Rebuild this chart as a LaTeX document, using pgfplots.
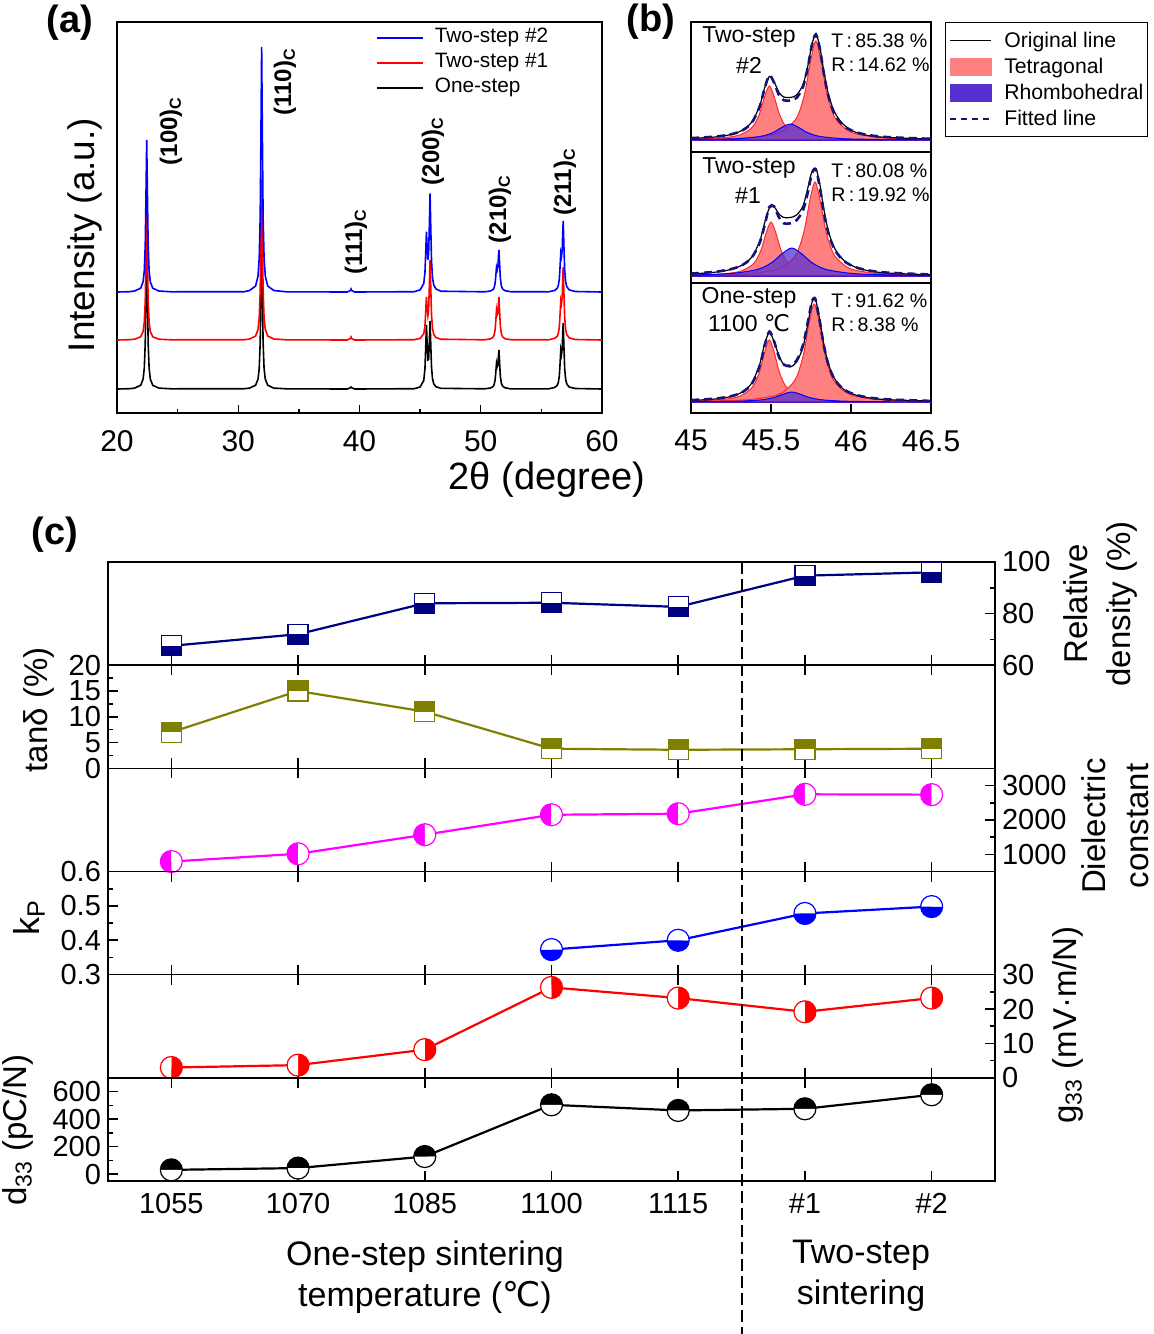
\documentclass[border=0pt]{standalone}
\usepackage{fontspec}
\setmainfont{Liberation Sans}
\newfontfamily\dejavu{DejaVu Sans}
\usepackage{pgfplots}
\pgfplotsset{compat=1.18}
\usetikzlibrary{plotmarks}

\definecolor{navyc}{RGB}{0,0,128}
\definecolor{olivec}{RGB}{128,128,0}
\definecolor{magc}{RGB}{255,0,255}
\definecolor{salmonc}{RGB}{255,128,128}
\definecolor{rhomc}{RGB}{88,48,210}
\definecolor{fitc}{RGB}{20,20,120}
\definecolor{tedge}{RGB}{255,40,40}

% half filled marks (filled half uses the fill colour, other half white)
\pgfdeclareplotmark{sqB}{%
  \pgfpathrectangle{\pgfqpoint{-\pgfplotmarksize}{-\pgfplotmarksize}}{\pgfqpoint{2\pgfplotmarksize}{\pgfplotmarksize}}%
  \pgfusepathqfill
  \begin{pgfscope}\pgfsetfillcolor{white}%
  \pgfpathrectangle{\pgfqpoint{-\pgfplotmarksize}{0pt}}{\pgfqpoint{2\pgfplotmarksize}{\pgfplotmarksize}}%
  \pgfusepathqfill\end{pgfscope}%
  \pgfpathrectangle{\pgfqpoint{-\pgfplotmarksize}{-\pgfplotmarksize}}{\pgfqpoint{2\pgfplotmarksize}{2\pgfplotmarksize}}%
  \pgfusepathqstroke}
\pgfdeclareplotmark{sqT}{%
  \pgfpathrectangle{\pgfqpoint{-\pgfplotmarksize}{0pt}}{\pgfqpoint{2\pgfplotmarksize}{\pgfplotmarksize}}%
  \pgfusepathqfill
  \begin{pgfscope}\pgfsetfillcolor{white}%
  \pgfpathrectangle{\pgfqpoint{-\pgfplotmarksize}{-\pgfplotmarksize}}{\pgfqpoint{2\pgfplotmarksize}{\pgfplotmarksize}}%
  \pgfusepathqfill\end{pgfscope}%
  \pgfpathrectangle{\pgfqpoint{-\pgfplotmarksize}{-\pgfplotmarksize}}{\pgfqpoint{2\pgfplotmarksize}{2\pgfplotmarksize}}%
  \pgfusepathqstroke}
\pgfdeclareplotmark{cT}{%
  \pgfpathmoveto{\pgfqpoint{\pgfplotmarksize}{0pt}}\pgfpatharc{0}{180}{\pgfplotmarksize}\pgfpathclose\pgfusepathqfill
  \begin{pgfscope}\pgfsetfillcolor{white}%
  \pgfpathmoveto{\pgfqpoint{-\pgfplotmarksize}{0pt}}\pgfpatharc{180}{360}{\pgfplotmarksize}\pgfpathclose\pgfusepathqfill
  \end{pgfscope}%
  \pgfpathcircle{\pgfpointorigin}{\pgfplotmarksize}\pgfusepathqstroke}
\pgfdeclareplotmark{cB}{%
  \pgfpathmoveto{\pgfqpoint{-\pgfplotmarksize}{0pt}}\pgfpatharc{180}{360}{\pgfplotmarksize}\pgfpathclose\pgfusepathqfill
  \begin{pgfscope}\pgfsetfillcolor{white}%
  \pgfpathmoveto{\pgfqpoint{\pgfplotmarksize}{0pt}}\pgfpatharc{0}{180}{\pgfplotmarksize}\pgfpathclose\pgfusepathqfill
  \end{pgfscope}%
  \pgfpathcircle{\pgfpointorigin}{\pgfplotmarksize}\pgfusepathqstroke}
\pgfdeclareplotmark{cL}{%
  \pgfpathmoveto{\pgfqpoint{0pt}{\pgfplotmarksize}}\pgfpatharc{90}{270}{\pgfplotmarksize}\pgfpathclose\pgfusepathqfill
  \begin{pgfscope}\pgfsetfillcolor{white}%
  \pgfpathmoveto{\pgfqpoint{0pt}{-\pgfplotmarksize}}\pgfpatharc{270}{450}{\pgfplotmarksize}\pgfpathclose\pgfusepathqfill
  \end{pgfscope}%
  \pgfpathcircle{\pgfpointorigin}{\pgfplotmarksize}\pgfusepathqstroke}
\pgfdeclareplotmark{cR}{%
  \pgfpathmoveto{\pgfqpoint{0pt}{-\pgfplotmarksize}}\pgfpatharc{-90}{90}{\pgfplotmarksize}\pgfpathclose\pgfusepathqfill
  \begin{pgfscope}\pgfsetfillcolor{white}%
  \pgfpathmoveto{\pgfqpoint{0pt}{\pgfplotmarksize}}\pgfpatharc{90}{270}{\pgfplotmarksize}\pgfpathclose\pgfusepathqfill
  \end{pgfscope}%
  \pgfpathcircle{\pgfpointorigin}{\pgfplotmarksize}\pgfusepathqstroke}

\pgfplotsset{
  cax/.style={at={(54pt,#1)}, anchor=north west, scale only axis,
    width=443.5pt, height=51.583pt, xmin=-0.5, xmax=6.5,
    xtick={0,1,2,3,4,5,6}, xticklabels={}, tick align=inside,
    major tick length=5pt, minor tick length=2.5pt,
    axis line style={line width=0.8pt},
    every tick/.append style={line width=0.8pt, black},
    tick label style={font=\fontsize{14.5}{17}\selectfont},
    /pgf/number format/assume math mode=true,
    /pgf/number format/1000 sep={}, scaled y ticks=false, clip=false},
  ser/.style={color=#1, line width=1.1pt, mark options={solid, line width=0.6pt, fill=#1, draw=#1}},
  bax/.style={scale only axis, anchor=north west, width=120pt, xmin=45, xmax=46.5,
    ytick=\empty, axis line style={line width=0.7pt}},
  tfill/.style={draw=tedge, fill=salmonc, line width=0.5pt, smooth, forget plot},
  rfill/.style={draw=blue, fill=rhomc, fill opacity=0.75, line width=0.5pt, smooth, forget plot},
  orig/.style={black, line width=0.6pt, smooth, forget plot},
  fit/.style={fitc, line width=1.3pt, dash pattern=on 4pt off 2.5pt, smooth, forget plot},
}

\begin{document}
\begin{tikzpicture}
\useasboundingbox (0,0) rectangle (576.5pt,-667pt);

%================ (a) =================
\begin{axis}[at={(58.5pt,-11pt)}, anchor=north west, scale only axis,
  width=242.5pt, height=195.5pt, xmin=20, xmax=60, ymin=0, ymax=391,
  xtick={20,30,40,50,60}, minor x tick num=1, ytick=\empty, xtick pos=bottom,
  tick align=inside, major tick length=4pt, minor tick length=2pt,
  axis line style={line width=0.7pt}, every tick/.append style={black, line width=0.7pt},
  tick label style={font=\fontsize{15}{18}\selectfont}, xticklabel shift=5pt,
  /pgf/number format/assume math mode=true,
  reverse legend, legend cell align=left,
  legend style={at={(0.533,0.99)}, anchor=north west, draw=none, fill=none, inner sep=0pt,
    font=\fontsize{10.4}{12}\selectfont, row sep=1pt, column sep=5pt,
    nodes={inner sep=0.5pt, text height=7.8pt, text depth=2.7pt}},
  legend image code/.code={\draw[#1, line width=1pt] (0pt,0pt) -- (23pt,0pt);}]
\addplot[black, line width=0.8pt] coordinates {(20,24) (21.0,24.3) (21.45,24.9) (21.95,27.7) (22.15,33.8) (22.25,44.6) (22.33,69.9) (22.39,119.4) (22.45,173) (22.51,119.4) (22.57,69.9) (22.65,44.6) (22.75,33.8) (22.95,27.7) (23.45,24.9) (24.5,24.2) (30.5,24.3) (30.93,24.9) (31.43,27.75) (31.63,33.9) (31.73,44.7) (31.81,70.2) (31.87,120) (31.93,174) (31.99,120) (32.05,70.2) (32.13,44.7) (32.23,33.9) (32.43,27.75) (32.93,24.9) (34,24.2) (39.0,24) (39.25,25.3) (39.3,26) (39.35,25.3) (39.6,24) (44.5,24.3) (45.0,26) (45.3,32.5) (45.4,44.7) (45.46,65.4) (45.52,88.2) (45.58,68.8) (45.64,53.1) (45.70,53.6) (45.76,71) (45.82,92) (45.88,67.8) (45.94,45.8) (46.02,34.3) (46.12,29.3) (46.3,26.3) (46.7,24.7) (50.3,24.2) (50.8,25) (51.0,26.3) (51.1,28.3) (51.18,32.6) (51.24,40.5) (51.3,50) (51.36,46.3) (51.42,48.5) (51.46,57.1) (51.5,63) (51.56,48.9) (51.62,36.3) (51.7,29.8) (51.8,26.9) (52.0,25.2) (52.5,24.1) (55.6,24.2) (56.1,25.6) (56.3,27.5) (56.4,30.5) (56.48,37) (56.54,48.8) (56.6,63) (56.66,58.7) (56.72,64.3) (56.76,79.5) (56.8,90) (56.86,66.2) (56.92,44.8) (57.0,33.7) (57.1,28.9) (57.3,25.9) (57.8,24.5) (60,24)};
\addlegendentry{One-step}
\addplot[red, line width=0.8pt] coordinates {(20,73) (21.0,73.3) (21.45,73.8) (21.95,76.2) (22.15,81.4) (22.25,90.5) (22.33,112.1) (22.39,154.3) (22.45,200) (22.51,154.3) (22.57,112.1) (22.65,90.5) (22.75,81.4) (22.95,76.2) (23.45,73.8) (24.5,73.2) (30.5,73.3) (30.93,74) (31.43,77) (31.63,83.6) (31.73,95.1) (31.81,122.3) (31.87,175.4) (31.93,233) (31.99,175.4) (32.05,122.3) (32.13,95.1) (32.23,83.6) (32.43,77) (32.93,74) (34,73.2) (39.0,73) (39.25,74.5) (39.3,76) (39.35,74.5) (39.6,73) (44.5,73.3) (45.0,74.6) (45.3,79.2) (45.4,87.4) (45.46,100.9) (45.52,116.1) (45.58,105) (45.64,97.5) (45.70,103.2) (45.76,126.4) (45.82,153) (45.88,124.4) (45.94,98.2) (46.02,84.6) (46.12,78.8) (46.3,75.5) (46.7,73.8) (50.3,73.2) (50.8,74.1) (51.0,75.6) (51.1,77.9) (51.18,82.8) (51.24,92.1) (51.3,103) (51.36,98.4) (51.42,100.3) (51.46,109.6) (51.5,116) (51.56,100.4) (51.62,86.6) (51.7,79.4) (51.8,76.2) (52.0,74.3) (52.5,73.3) (55.6,73.2) (56.1,74.7) (56.3,76.7) (56.4,79.7) (56.48,86.3) (56.54,98.2) (56.6,112.5) (56.66,109.2) (56.72,116.7) (56.76,134.2) (56.8,146.1) (56.86,119.8) (56.92,96.1) (57.0,83.6) (57.1,78.3) (57.3,75.1) (57.8,73.5) (60,73)};
\addlegendentry{Two-step \#1}
\addplot[blue, line width=0.8pt] coordinates {(20,121) (21.0,121.3) (21.45,122) (21.95,124.8) (22.15,131) (22.25,142) (22.33,168) (22.39,218) (22.45,273) (22.51,218) (22.57,168) (22.65,142) (22.75,131) (22.95,124.8) (23.45,122) (24.5,121.2) (30.5,121.3) (30.93,122.5) (31.43,127) (31.63,137) (31.73,155) (31.81,196) (31.87,278) (31.93,366) (31.99,278) (32.05,196) (32.13,155) (32.23,137) (32.43,127) (32.93,122.5) (34,121.2) (39.0,121) (39.25,122.5) (39.3,124) (39.35,122.5) (39.6,121) (44.5,121.3) (45.0,123.1) (45.3,129.5) (45.4,140.9) (45.46,160.1) (45.52,181.3) (45.58,165.1) (45.64,153.3) (45.70,159.2) (45.76,187.2) (45.82,219.6) (45.88,184.3) (45.94,152.2) (46.02,135.5) (46.12,128.2) (46.3,124.1) (46.7,121.8) (50.3,121.2) (50.8,122) (51.0,123.3) (51.1,125.2) (51.18,129.3) (51.24,136.9) (51.3,146) (51.36,143.2) (51.42,146.7) (51.46,156.3) (51.5,163) (51.56,147.9) (51.62,134.3) (51.7,127.1) (51.8,124.1) (52.0,122.3) (52.5,121.3) (55.6,121.2) (56.1,122.6) (56.3,124.6) (56.4,127.6) (56.48,134.1) (56.54,145.9) (56.6,160) (56.66,156.6) (56.72,163.7) (56.76,180.5) (56.8,192) (56.86,166.4) (56.92,143.4) (57.0,131.3) (57.1,126.2) (57.3,123.1) (57.8,121.5) (60,121)};
\addlegendentry{Two-step \#2}
\end{axis}

%================ (b) top: Two-step #2 =================
\begin{axis}[bax, at={(345.5pt,-11pt)}, height=65pt, ymin=-12, ymax=118, xtick=\empty,
  legend cell align=left,
  legend style={at={(1.0583,1)}, anchor=north west, draw=black, line width=0.7pt, fill=white,
    inner xsep=2pt, inner ysep=3pt, font=\fontsize{10.6}{12}\selectfont, row sep=1pt, column sep=6pt,
    nodes={inner sep=0pt, text height=9.5pt, text depth=2.5pt}},
  legend image code/.code={\draw[#1] (0pt,0pt) -- (20.5pt,0pt);}]
\addlegendimage{black, line width=0.6pt}
\addlegendentry{Original line}
\addlegendimage{legend image code/.code={\fill[salmonc] (0pt,-4.25pt) rectangle (20.5pt,4.25pt);}}
\addlegendentry{Tetragonal}
\addlegendimage{legend image code/.code={\fill[rhomc] (0pt,-4.25pt) rectangle (20.5pt,4.25pt);}}
\addlegendentry{Rhombohedral}
\addlegendimage{fitc, line width=0.8pt, dash pattern=on 3pt off 2.5pt}
\addlegendentry{Fitted line}
\addplot[tfill] coordinates {(45.0,0.8) (45.01,0.8) (45.13,1.5) (45.25,3.2) (45.31,5.4) (45.37,10.8) (45.40,16.6) (45.43,27) (45.46,43.2) (45.49,54) (45.52,43.2) (45.55,27) (45.58,16.6) (45.61,10.8) (45.67,5.4) (45.73,3.2) (45.85,1.5) (45.97,0.8) (46.2,0.3) (46.5,0.15)} \closedcycle;
\addplot[tfill] coordinates {(45.0,0.7) (45.26,1.5) (45.39,2.7) (45.52,5.8) (45.585,9.9) (45.65,19.8) (45.6825,30.5) (45.715,49.5) (45.7475,79.2) (45.78,99) (45.8125,79.2) (45.845,49.5) (45.8775,30.5) (45.91,19.8) (45.975,9.9) (46.04,5.8) (46.17,2.7) (46.30,1.5) (46.5,0.8)} \closedcycle;
\addplot[rfill] coordinates {(45.0,0.4) (45.22,0.94) (45.32,1.6) (45.42,3.2) (45.47,4.9) (45.52,8) (45.57,12.8) (45.62,16) (45.67,12.8) (45.72,8) (45.77,4.9) (45.82,3.2) (45.92,1.6) (46.02,0.94) (46.22,0.43) (46.42,0.25) (46.5,0.2)} \closedcycle;
\addplot[orig] coordinates {(45.00,1.5) (45.15,3.0) (45.25,5.5) (45.32,9.8) (45.38,18) (45.43,34.5) (45.46,52) (45.49,63.5) (45.52,58) (45.55,47.5) (45.58,43) (45.62,42.5) (45.66,45) (45.70,55.5) (45.73,74) (45.755,95) (45.78,106) (45.805,93) (45.83,69) (45.86,45) (45.90,27) (45.96,14.5) (46.05,6.5) (46.20,2.8) (46.50,1)};
\addplot[fit] coordinates {(45.00,1.9) (45.15,3.4) (45.25,5.7) (45.32,9.5) (45.38,17.3) (45.43,33.8) (45.46,51.6) (45.49,64.7) (45.52,57) (45.55,45) (45.58,39.8) (45.62,39.5) (45.66,42.2) (45.70,53.2) (45.73,72.6) (45.755,94.5) (45.78,105.7) (45.805,91.7) (45.83,66.8) (45.86,43.2) (45.90,25.3) (45.96,13.5) (46.05,6.9) (46.20,3.2) (46.50,1.2)};
\end{axis}

%================ (b) middle: Two-step #1 =================
\begin{axis}[bax, at={(345.5pt,-76pt)}, height=65.5pt, ymin=-7, ymax=124, xtick=\empty]
\addplot[tfill] coordinates {(45.0,0.75) (45.02,0.8) (45.14,1.5) (45.26,3.2) (45.32,5.4) (45.38,10.8) (45.41,16.6) (45.44,27) (45.47,43.2) (45.50,54) (45.53,43.2) (45.56,27) (45.59,16.6) (45.62,10.8) (45.68,5.4) (45.74,3.2) (45.86,1.5) (45.98,0.8) (46.2,0.35) (46.5,0.2)} \closedcycle;
\addplot[tfill] coordinates {(45.0,0.65) (45.255,1.4) (45.385,2.5) (45.515,5.5) (45.58,9.4) (45.645,18.8) (45.6775,29) (45.71,47) (45.7425,75.2) (45.775,94) (45.8075,75.2) (45.84,47) (45.8725,29) (45.905,18.8) (45.97,9.4) (46.035,5.5) (46.165,2.5) (46.295,1.4) (46.5,0.75)} \closedcycle;
\addplot[rfill] coordinates {(45.0,1.0) (45.15,1.65) (45.27,2.8) (45.39,5.6) (45.45,8.6) (45.51,14) (45.57,22.4) (45.63,28) (45.69,22.4) (45.75,14) (45.81,8.6) (45.87,5.6) (45.99,2.8) (46.11,1.65) (46.35,0.76) (46.5,0.5)} \closedcycle;
\addplot[orig] coordinates {(45.00,2) (45.15,3.8) (45.25,6.5) (45.32,11) (45.38,19) (45.43,35) (45.46,53) (45.49,68) (45.52,69) (45.55,62) (45.58,58.5) (45.62,58.5) (45.66,61) (45.70,70) (45.73,88) (45.755,104) (45.78,107.5) (45.805,92) (45.83,67) (45.86,44) (45.90,27) (45.96,15) (46.05,7.5) (46.20,3.3) (46.50,1.2)};
\addplot[fit] coordinates {(45.00,2.4) (45.15,4.2) (45.25,6.9) (45.32,10.9) (45.38,18.5) (45.43,33.5) (45.46,50.5) (45.49,69.1) (45.52,69.5) (45.55,58.5) (45.58,52.7) (45.62,52.7) (45.66,55.8) (45.70,65.8) (45.73,83.5) (45.755,102.1) (45.78,106.7) (45.805,88.6) (45.83,63.9) (45.86,42.2) (45.90,25.8) (45.96,14.5) (46.05,7.7) (46.20,3.7) (46.50,1.5)};
\end{axis}

%================ (b) bottom: One-step 1100 =================
\begin{axis}[bax, at={(345.5pt,-141.5pt)}, height=65pt, ymin=-11, ymax=119,
  xtick={45,45.5,46,46.5}, xtick pos=bottom, tick align=inside, major tick length=4.5pt,
  every tick/.append style={black, line width=0.7pt},
  tick label style={font=\fontsize{15}{18}\selectfont}, xticklabel shift=5pt,
  /pgf/number format/assume math mode=true]
\addplot[tfill] coordinates {(45.0,0.9) (45.01,0.95) (45.13,1.67) (45.25,3.65) (45.31,6.2) (45.37,12.4) (45.40,19.1) (45.43,31) (45.46,49.6) (45.49,62) (45.52,49.6) (45.55,31) (45.58,19.1) (45.61,12.4) (45.67,6.2) (45.73,3.65) (45.85,1.67) (45.97,0.95) (46.2,0.4) (46.5,0.2)} \closedcycle;
\addplot[tfill] coordinates {(45.0,0.7) (45.25,1.5) (45.38,2.65) (45.51,5.76) (45.575,9.8) (45.64,19.6) (45.6725,30.2) (45.705,49) (45.7375,78.4) (45.77,98) (45.8025,78.4) (45.835,49) (45.8675,30.2) (45.90,19.6) (45.965,9.8) (46.03,5.76) (46.16,2.65) (46.29,1.5) (46.5,0.8)} \closedcycle;
\addplot[rfill] coordinates {(45.0,0.25) (45.23,0.59) (45.33,1) (45.43,2) (45.48,3.08) (45.53,5) (45.58,8) (45.63,10) (45.68,8) (45.73,5) (45.78,3.08) (45.83,2) (45.93,1) (46.03,0.59) (46.23,0.27) (46.43,0.15) (46.5,0.13)} \closedcycle;
\addplot[orig] coordinates {(45.00,1.5) (45.15,3.0) (45.25,5.5) (45.32,10) (45.38,19) (45.43,38) (45.46,58) (45.49,69.5) (45.52,60) (45.55,46) (45.58,37.5) (45.62,35) (45.66,40) (45.70,55) (45.73,78) (45.755,99) (45.77,104) (45.78,102) (45.805,82) (45.83,58) (45.86,37.5) (45.90,22.5) (45.96,12) (46.05,6) (46.20,2.6) (46.50,1)};
\addplot[fit] coordinates {(45.00,1.9) (45.15,3.4) (45.25,5.8) (45.32,9.8) (45.38,18.2) (45.43,36.5) (45.46,56.3) (45.49,70.4) (45.52,60.3) (45.55,45) (45.58,37.4) (45.62,36.3) (45.66,41.5) (45.70,56.8) (45.73,79.8) (45.755,100) (45.77,104.1) (45.78,101.3) (45.805,80.6) (45.83,56.8) (45.86,36.7) (45.90,22.1) (45.96,12.1) (46.05,6.3) (46.20,2.9) (46.50,1.1)};
\end{axis}

%================ (c) =================
\begin{axis}[cax=-281pt, ymin=60, ymax=100, ytick={60,80,100}, minor ytick={70,90},
  ytick pos=right, yticklabel pos=right, xtick pos=bottom]
\addplot[ser=navyc, mark=sqB, mark size=5pt] coordinates {(0,67.5) (1,72) (2,84) (3,84.2) (4,82.6) (5,94.7) (6,96)};
\end{axis}
\begin{axis}[cax=-332.583pt, ymin=0, ymax=20, ytick={0,5,10,15,20}, minor ytick={2.5,7.5,12.5,17.5},
  ytick pos=left, yticklabel pos=left, xtick pos=both]
\addplot[ser=olivec, mark=sqT, mark size=5pt] coordinates {(0,7) (1,15) (2,11) (3,3.8) (4,3.6) (5,3.7) (6,3.8)};
\end{axis}
\begin{axis}[cax=-384.167pt, ymin=500, ymax=3500, ytick={1000,2000,3000}, minor ytick={1500,2500},
  ytick pos=right, yticklabel pos=right, xtick pos=both]
\addplot[ser=magc, mark=cL, mark size=5.5pt] coordinates {(0,790) (1,1015) (2,1570) (3,2150) (4,2180) (5,2745) (6,2735)};
\end{axis}
\begin{axis}[cax=-435.75pt, ymin=0.3, ymax=0.6, ytick={0.3,0.4,0.5,0.6}, minor ytick={0.35,0.45,0.55},
  ytick pos=left, yticklabel pos=left, xtick pos=both]
\addplot[ser=blue, mark=cB, mark size=5.5pt] coordinates {(3,0.373) (4,0.40) (5,0.478) (6,0.498)};
\end{axis}
\begin{axis}[cax=-487.333pt, ymin=0, ymax=30, ytick={0,10,20,30}, minor ytick={5,15,25},
  ytick pos=right, yticklabel pos=right, xtick pos=both]
\addplot[ser=red, mark=cR, mark size=5.5pt] coordinates {(0,3.0) (1,3.7) (2,8.2) (3,26.3) (4,23.2) (5,19.2) (6,23.2)};
\end{axis}
\begin{axis}[cax=-538.917pt, ymin=-50, ymax=700, ytick={0,200,400,600}, minor ytick={100,300,500},
  ytick pos=left, yticklabel pos=left, xtick pos=both, xticklabel shift=2.5pt,
  xticklabels={1055,1070,1085,1100,1115,\#1,\#2}]
\addplot[ser=black, mark=cT, mark size=5.5pt] coordinates {(0,31) (1,44) (2,128) (3,504) (4,463) (5,475) (6,577)};
\end{axis}

\draw[dash pattern=on 6pt off 2.5pt, line width=0.9pt] (371pt,-281pt) -- (371pt,-667pt);

%================ texts =================
\begin{scope}[every node/.style={inner sep=0pt}]
\node[font=\bfseries\fontsize{19}{22}\selectfont] at (35pt,-11.5pt) {(a)};
\node[font=\bfseries\fontsize{19}{22}\selectfont] at (325.5pt,-11pt) {(b)};
\node[font=\bfseries\fontsize{19}{22}\selectfont] at (27.5pt,-267.5pt) {(c)};
\node[rotate=90, font=\fontsize{18.5}{22}\selectfont] at (42.5pt,-117.5pt) {Intensity (a.u.)};
\node[font=\fontsize{19}{22}\selectfont] at (273.5pt,-240pt) {2θ (degree)};

\begin{scope}[every node/.append style={rotate=90, font=\bfseries\fontsize{12}{14}\selectfont}]
\node at (85.5pt,-65.5pt) {(100)\textsubscript{C}};
\node at (142.5pt,-41pt) {(110)\textsubscript{C}};
\node at (178pt,-121pt) {(111)\textsubscript{C}};
\node at (216.5pt,-75.5pt) {(200)\textsubscript{C}};
\node at (250pt,-104.5pt) {(210)\textsubscript{C}};
\node at (282.5pt,-91pt) {(211)\textsubscript{C}};
\end{scope}

\begin{scope}[every node/.append style={font=\fontsize{11.5}{13}\selectfont}]
\node at (374.5pt,-18.5pt) {Two-step};
\node at (374.5pt,-32.5pt) {\#2};
\node at (374.5pt,-84pt) {Two-step};
\node at (374pt,-98pt) {\#1};
\node at (374.5pt,-149pt) {One-step};
\node at (374.5pt,-161.75pt) {1100 {\dejavu ℃}};
\end{scope}
\begin{scope}[every node/.append style={anchor=west, font=\fontsize{9.8}{12}\selectfont}]
\node at (415.5pt,-20.5pt) {T\,:\,85.38 \%};
\node at (415.5pt,-32.25pt) {R\,:\,14.62 \%};
\node at (415.5pt,-85.25pt) {T\,:\,80.08 \%};
\node at (415.5pt,-97.25pt) {R\,:\,19.92 \%};
\node at (415.5pt,-150.25pt) {T\,:\,91.62 \%};
\node at (415.5pt,-162.25pt) {R\,:\,8.38 \%};
\end{scope}

\node[rotate=90, font=\fontsize{16.5}{20}\selectfont] at (19.5pt,-355pt) {tanδ (\%)};
\node[rotate=90, font=\fontsize{18}{20}\selectfont] at (14.5pt,-459pt) {k\textsubscript{P}};
\node[rotate=90, font=\fontsize{16.5}{20}\selectfont] at (9pt,-565pt) {d\textsubscript{33} (pC/N)};
\node[rotate=90, align=center, font=\fontsize{16.5}{21.5}\selectfont] at (550pt,-302pt) {Relative\\density (\%)};
\node[rotate=90, align=center, font=\fontsize{16.5}{21.5}\selectfont] at (557.5pt,-413pt) {Dielectric\\constant};
\node[rotate=90, font=\fontsize{16.5}{20}\selectfont] at (534pt,-512.5pt) {g\textsubscript{33} (mV·m/N)};
\node[align=center, font=\fontsize{17}{20.5}\selectfont] at (212.5pt,-638.75pt) {One-step sintering\\temperature ({\dejavu ℃})};
\node[align=center, font=\fontsize{17}{20.5}\selectfont] at (430.5pt,-637.75pt) {Two-step\\sintering};
\end{scope}
\end{tikzpicture}
\end{document}
